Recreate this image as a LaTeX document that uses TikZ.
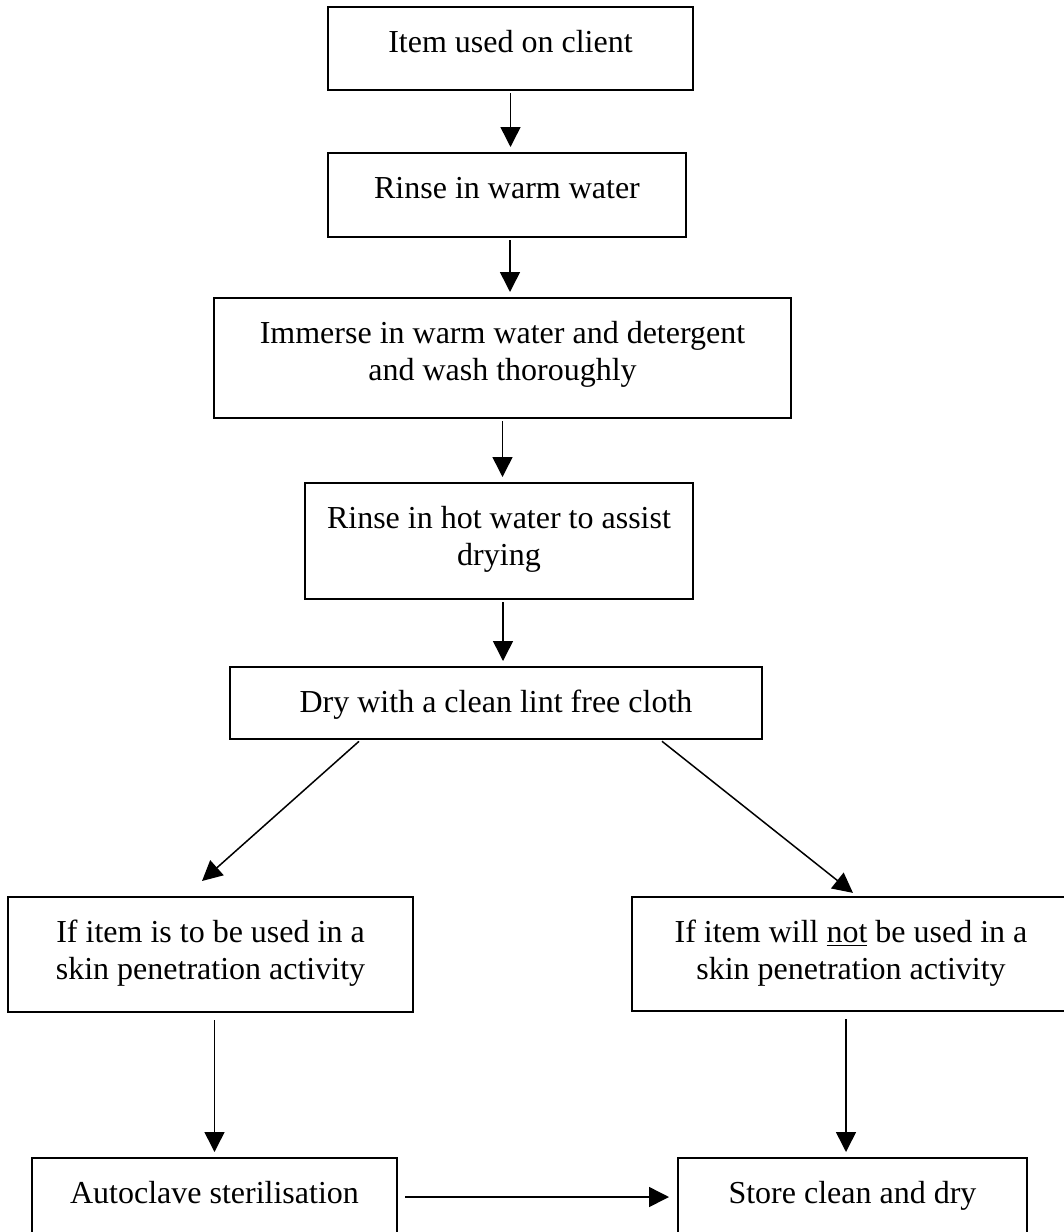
\documentclass[tikz,border=0pt]{standalone}
\usepackage{fontspec}
\setmainfont{Liberation Serif}
\usetikzlibrary{arrows.meta}

\tikzset{
	stepbox/.style={draw, line width=1pt, inner sep=0pt},
	flow/.style={-{Triangle[length=10pt,width=10pt]}, line width=0.75pt, shorten <=1pt, shorten >=2.5pt}
}
\newcommand{\boxtext}[3]{\parbox[c][#2][t]{#1}{\centering\rule{0pt}{22.5pt}#3}}

\begin{document}
\fontsize{16pt}{18.5pt}\selectfont
\begin{tikzpicture}[x=0.5pt,y=-0.5pt]
		\useasboundingbox (0,0) rectangle (1064,1232);
		\clip (0,0) rectangle (1064,1232);
		\node[stepbox] (used) at (510.5,48.5) {\boxtext{182.5pt}{41.5pt}{Item used on client}};
		\node[stepbox] (warm) at (507,195) {\boxtext{179pt}{42pt}{Rinse in warm water}};
		\node[stepbox] (wash) at (502.5,358) {\boxtext{288.5pt}{60pt}{Immerse in warm water and detergent\\and wash thoroughly}};
		\node[stepbox] (hot) at (499,541) {\boxtext{194pt}{58pt}{Rinse in hot water to assist\\drying}};
		\node[stepbox] (dry) at (496,703) {\boxtext{266pt}{36pt}{Dry with a clean lint free cloth}};
		\node[stepbox] (skin) at (210.5,954.5) {\boxtext{202.5pt}{57.5pt}{If item is to be used in a\\skin penetration activity}};
		\node[stepbox] (noskin) at (851,954) {\boxtext{219pt}{57pt}{If item will \underline{not} be used in a\\skin penetration activity}};
		\node[stepbox] (autoclave) at (214.5,1197) {\boxtext{182.5pt}{39pt}{Autoclave sterilisation}};
		\node[stepbox] (store) at (852.5,1197) {\boxtext{174.5pt}{39pt}{Store clean and dry}};
		\draw[flow] (used) -- (used |- warm.north);
		\draw[flow] ([xshift=1.5pt]warm.south) -- ([xshift=1.5pt]warm.south |- wash.north);
		\draw[flow] (wash) -- (wash |- hot.north);
		\draw[flow] ([xshift=2pt]hot.south) -- ([xshift=2pt]hot.south |- dry.north);
		\draw[flow] ([xshift=-67.75pt]dry.south) -- ([xshift=-6.1pt,yshift=5.85pt]skin.north);
		\draw[flow] ([xshift=82.2pt]dry.south) -- ([xshift=2.95pt]noskin.north);
		\draw[flow, shorten <=3.5pt] (skin.south -| autoclave) -- (autoclave);
		\draw[flow, shorten <=3.5pt] ([xshift=-2.5pt]noskin.south) -- ([xshift=-2.5pt]noskin.south |- store.north);
		\draw[flow, shorten <=3.5pt, shorten >=4pt] (autoclave) -- (store);
	\end{tikzpicture}
\end{document}
